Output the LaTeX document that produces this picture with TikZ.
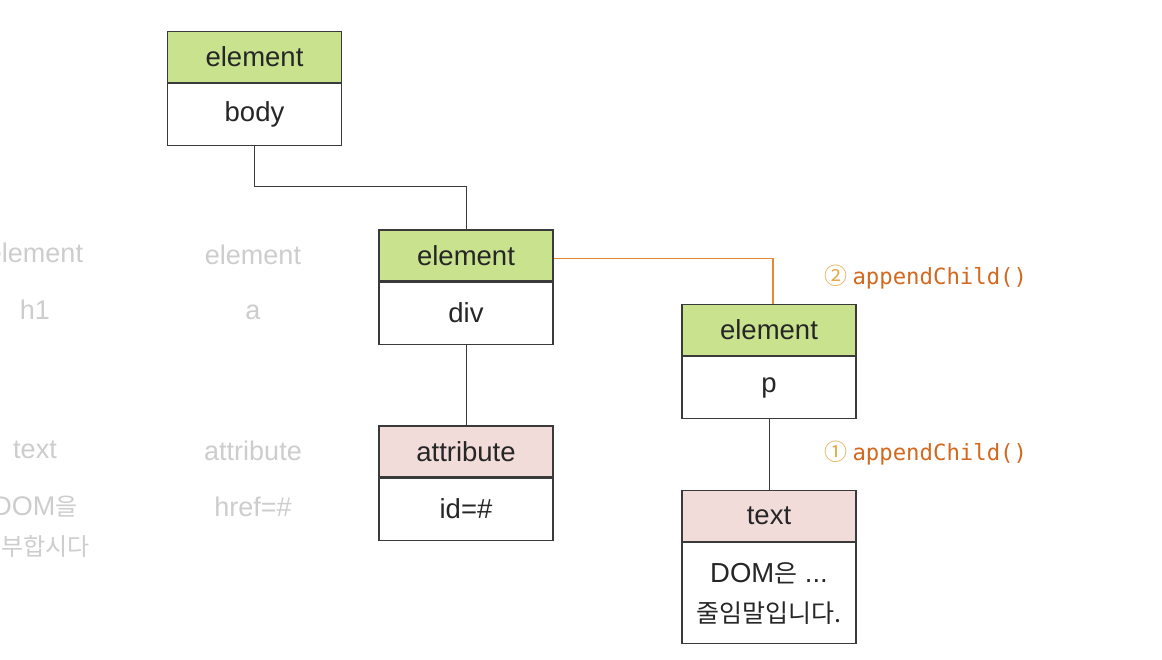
\documentclass[tikz,border=0pt]{standalone}
\usepackage{fontspec}
\setmainfont{Liberation Sans}
\newfontfamily\krfont{Noto Sans CJK KR}
\newfontfamily\codefont{DejaVu Sans Mono}
\usetikzlibrary{calc}
\definecolor{hdrgreen}{HTML}{C9E28E}
\definecolor{hdrpink}{HTML}{F2DCDA}
\definecolor{linkorange}{HTML}{E58A2E}
\definecolor{labelorange}{HTML}{D2691E}
\definecolor{circorange}{HTML}{E6A84A}
\definecolor{ghost}{HTML}{CDCDCD}
\definecolor{edge}{HTML}{3A3A3A}
\begin{document}
\begin{tikzpicture}[x=1pt,y=-1pt,
  box/.style={draw=edge, line width=1.1pt, minimum width=174pt, inner sep=0pt,
    font=\fontsize{27.5}{32}\selectfont, text=black!85},
  hdrG/.style={box, fill=hdrgreen, minimum height=51pt},
  hdrP/.style={box, fill=hdrpink, minimum height=51pt},
  cell/.style={box, fill=white, minimum height=62pt},
  tallcell/.style={box, fill=white, minimum height=101pt, align=center,
    font=\fontsize{27.5}{42}\selectfont},
  link/.style={draw=edge, line width=1pt},
  newlink/.style={draw=linkorange, line width=1.3pt},
  call/.style={anchor=west, text=labelorange, font=\codefont\fontsize{22.3}{26}\selectfont},
  ghosttext/.style={text=ghost, font=\fontsize{27}{32}\selectfont}
]
\fill[white] (0,0) rectangle (1162,660);
\useasboundingbox (0,0) rectangle (1162,660);

% ghost (faded) nodes
\node[ghosttext] (g1) at (35,253) {element};
\node[ghosttext] (g2) at (35,310) {h1};
\node[ghosttext] (g3) at (253,255) {element};
\node[ghosttext] (g4) at (253,312) {a};
\node[ghosttext] (g5) at (35,450) {text};
\node[ghosttext] (g6) at (253,451) {attribute};
\node[ghosttext] (g7) at (35,507) {DOM{\krfont\fontsize{24}{30}\selectfont 을}};
\node[ghosttext, anchor=east] (g8) at (93,546) {\krfont\fontsize{24}{30}\selectfont 부합시다};
\node[ghosttext] (g9) at (253,507) {href=\#};

% body
\node[hdrG] (bodyH) at (254.5,57) {element};
\node[cell, anchor=north] (bodyB) at (bodyH.south) {body};
% div
\node[hdrG] (divH) at (466,255.5) {element};
\node[cell, anchor=north] (divB) at (divH.south) {div};
% attribute
\node[hdrP] (attrH) at (466,451.5) {attribute};
\node[cell, anchor=north] (attrB) at (attrH.south) {id=\#};
% p
\node[hdrG] (pH) at (769,330) {element};
\node[cell, anchor=north] (pB) at (pH.south) {p};
% text
\node[hdrP] (textH) at (769,516) {text};
\node[tallcell, anchor=north] (textB) at (textH.south)
  {DOM{\krfont\fontsize{25}{42}\selectfont 은} ...\\[-2pt]{\krfont\fontsize{25}{42}\selectfont 줄임말입니다.}};

% connectors
\draw[link] (bodyB.south) -- ++(0,40) -| (divH.north);
\draw[link] (divB.south) -- (attrH.north);
\draw[link] (pB.south) -- (textH.north);
\draw[newlink] ([yshift=-3pt]divH.east) -| ([xshift=4pt]pH.north);

% labels
\node[call] (call2) at (821,277) {{\krfont\fontsize{23}{26}\selectfont\color{circorange}②}\hspace{5pt}appendChild()};
\node[call] (call1) at (821,453) {{\krfont\fontsize{23}{26}\selectfont\color{circorange}①}\hspace{5pt}appendChild()};
\end{tikzpicture}
\end{document}
